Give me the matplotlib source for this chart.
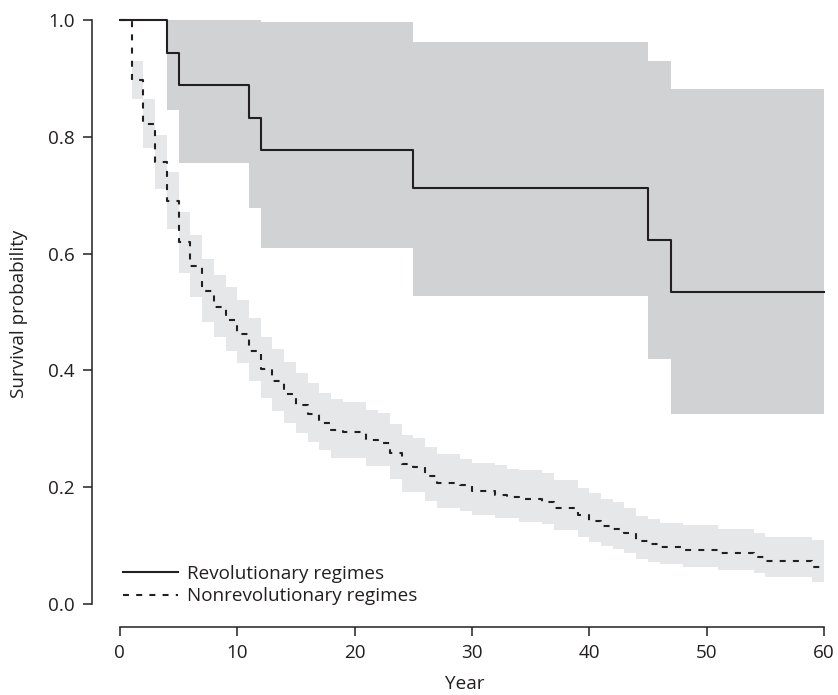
import matplotlib

matplotlib.use("Agg")

import matplotlib.pyplot as plt
import numpy as np

# Revolutionary regimes (Kaplan-Meier, step at each event year)
rev_time = [0, 4, 5, 11, 12, 25, 45, 47, 60]
rev_surv = [1.0, 0.944, 0.889, 0.833, 0.778, 0.713, 0.624, 0.535, 0.535]
rev_upper = [1.0, 1.0, 1.0, 1.0, 0.997, 0.962, 0.929, 0.881, 0.881]
rev_lower = [1.0, 0.846, 0.755, 0.678, 0.609, 0.527, 0.419, 0.325, 0.325]

# Nonrevolutionary regimes, one value per year 0..60
nonrev_time = list(range(61))
nonrev_surv = [
    1.0, 0.897, 0.822, 0.756, 0.690, 0.619, 0.578, 0.536, 0.509, 0.486,
    0.463, 0.434, 0.402, 0.382, 0.359, 0.341, 0.326, 0.310, 0.298, 0.295,
    0.295, 0.280, 0.275, 0.258, 0.240, 0.234, 0.220, 0.208, 0.208, 0.203,
    0.194, 0.194, 0.187, 0.184, 0.180, 0.180, 0.175, 0.165, 0.165, 0.152,
    0.142, 0.134, 0.128, 0.122, 0.108, 0.103, 0.098, 0.098, 0.093, 0.093,
    0.093, 0.087, 0.087, 0.087, 0.081, 0.074, 0.074, 0.074, 0.074, 0.063,
    0.063,
]
nonrev_upper = [
    1.0, 0.929, 0.864, 0.803, 0.740, 0.672, 0.632, 0.590, 0.563, 0.542,
    0.521, 0.489, 0.458, 0.436, 0.415, 0.395, 0.379, 0.362, 0.351, 0.346,
    0.346, 0.333, 0.327, 0.309, 0.289, 0.284, 0.269, 0.257, 0.257, 0.249,
    0.241, 0.241, 0.238, 0.232, 0.229, 0.229, 0.224, 0.212, 0.212, 0.198,
    0.190, 0.179, 0.175, 0.164, 0.150, 0.145, 0.139, 0.139, 0.135, 0.135,
    0.135, 0.128, 0.128, 0.128, 0.122, 0.115, 0.115, 0.115, 0.115, 0.110,
    0.110,
]
nonrev_lower = [
    1.0, 0.864, 0.781, 0.711, 0.642, 0.567, 0.526, 0.483, 0.457, 0.434,
    0.413, 0.382, 0.352, 0.331, 0.310, 0.292, 0.278, 0.263, 0.250, 0.250,
    0.250, 0.236, 0.236, 0.214, 0.192, 0.192, 0.177, 0.165, 0.165, 0.159,
    0.152, 0.152, 0.147, 0.147, 0.141, 0.141, 0.137, 0.127, 0.127, 0.115,
    0.107, 0.099, 0.095, 0.087, 0.077, 0.072, 0.068, 0.068, 0.063, 0.063,
    0.063, 0.058, 0.058, 0.058, 0.053, 0.046, 0.046, 0.046, 0.046, 0.037,
    0.037,
]

x_ticks = [0, 10, 20, 30, 40, 50, 60]
y_ticks = [0.0, 0.2, 0.4, 0.6, 0.8, 1.0]

INK = "#231f20"
REV_BAND = "#d1d2d4"
NONREV_BAND = "#e6e7e8"
FS = 13.6

plt.rcParams["font.family"] = ["Open Sans", "DejaVu Sans"]
plt.rcParams["lines.scale_dashes"] = False

fig = plt.figure(figsize=(8.38, 6.95), dpi=100)
ax = fig.add_axes([0.1095, 0.0973, 0.8905, 0.9027])

ax.fill_between(nonrev_time, nonrev_lower, nonrev_upper, step="post", color=NONREV_BAND, linewidth=0)
ax.fill_between(rev_time, rev_lower, rev_upper, step="post", color=REV_BAND, linewidth=0)

ax.step(rev_time, rev_surv, where="post", color=INK, linewidth=1.5, label="Revolutionary regimes")
ax.step(
    nonrev_time, nonrev_surv, where="post", color=INK, linewidth=1.5, dashes=(4.3, 5.2),
    label="Nonrevolutionary regimes",
)

ax.set_xlim(-2.4, 61.2)
ax.set_ylim(-0.04, 1.0342)
ax.set_xticks(x_ticks)
ax.set_yticks(y_ticks)
ax.set_yticklabels([f"{v:.1f}" for v in y_ticks])

for side in ["top", "right"]:
    ax.spines[side].set_visible(False)
ax.spines["left"].set_bounds(0, 1)
ax.spines["bottom"].set_bounds(0, 60)
for side in ["left", "bottom"]:
    ax.spines[side].set_color(INK)
    ax.spines[side].set_linewidth(1.1)

ax.tick_params(axis="both", direction="out", length=6.5, width=1.1, color=INK, labelsize=FS, labelcolor=INK)
ax.tick_params(axis="y", pad=5.5)
ax.tick_params(axis="x", pad=5.5)

ax.set_xlabel("Year", fontsize=FS, color=INK, labelpad=9)
ax.set_ylabel("Survival probability", fontsize=FS, color=INK, labelpad=15)

ax.legend(
    loc="lower left",
    bbox_to_anchor=(0.042, 0.035),
    frameon=False,
    fontsize=FS,
    handlelength=2.9,
    handletextpad=0.5,
    labelspacing=0.25,
    borderpad=0,
    borderaxespad=0,
    labelcolor=INK,
)

fig.savefig("out.png", dpi=100, facecolor="white")
